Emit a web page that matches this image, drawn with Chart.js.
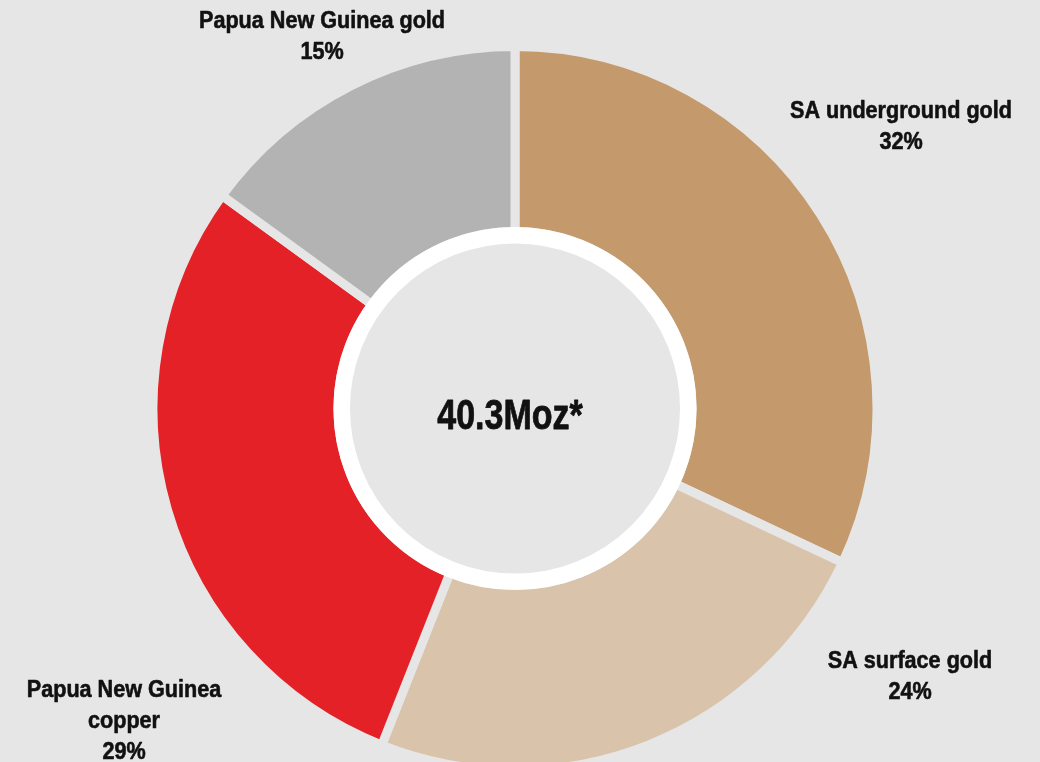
<!DOCTYPE html>
<html>
<head>
<meta charset="utf-8">
<title>Resource split</title>
<script src="https://cdn.jsdelivr.net/npm/chart.js@4.4.1/dist/chart.umd.min.js"></script>
<style>
    html, body {
        margin: 0;
        padding: 0;
        width: 1040px;
        height: 762px;
        overflow: hidden;
        background: #e6e6e6;
    }
    .chart-wrap {
        position: relative;
        width: 1040px;
        height: 818px;
    }
</style>
</head>
<body>
<div class="chart-wrap">
    <canvas id="splitChart" width="1040" height="818"></canvas>
</div>
<script>
// Slices, clockwise from 12 o'clock
const categories = ['SA underground gold', 'SA surface gold', 'Papua New Guinea copper', 'Papua New Guinea gold'];
const labelLines = [['SA underground gold'], ['SA surface gold'], ['Papua New Guinea', 'copper'], ['Papua New Guinea gold']];
const shares = [32, 24, 29, 15];
const sliceColors = ['#c49a6c', '#d9c4ab', '#e42127', '#b3b3b3'];
const centerText = '40.3Moz*';

const BG = '#e6e6e6';
const FONT = '"Liberation Sans", Arial, sans-serif';
const GAP = 9;

// label anchor (x, first baseline) relative to the doughnut centre
const labelSpots = [
    { dx: 386, dy: -291 },
    { dx: 395, dy: 259 },
    { dx: -391, dy: 288 },
    { dx: -193, dy: -381 }
];

// squeezed, slightly heavier text for the narrow bold look
const narrowText = (ctx, txt, x, y, sx) => {
    ctx.save();
    ctx.translate(x, y);
    ctx.scale(sx, 1);
    ctx.fillText(txt, 0, 0);
    ctx.strokeText(txt, 0, 0);
    ctx.restore();
};

// White ring around the hole, centre total and the outside labels
const ringAndLabels = {
    id: 'ringAndLabels',
    afterDatasetsDraw(chart) {
        const { ctx } = chart;
        const meta = chart.getDatasetMeta(0);
        const arc = meta.data[0];
        if (!arc) return;
        const cx = arc.x;
        const cy = arc.y;
        const inner = arc.innerRadius;

        ctx.save();
        // hole
        ctx.beginPath();
        ctx.arc(cx, cy, inner, 0, Math.PI * 2);
        ctx.fillStyle = BG;
        ctx.fill();
        // white ring
        const ringW = 16.5;
        ctx.beginPath();
        ctx.arc(cx, cy, inner + GAP / 2 - ringW / 2, 0, Math.PI * 2);
        ctx.lineWidth = ringW;
        ctx.strokeStyle = '#ffffff';
        ctx.stroke();

        // total in the middle
        ctx.fillStyle = '#111111';
        ctx.strokeStyle = '#111111';
        ctx.lineWidth = 0.8;
        ctx.lineJoin = 'round';
        ctx.textAlign = 'center';
        ctx.textBaseline = 'alphabetic';
        ctx.font = 'bold 42px ' + FONT;
        narrowText(ctx, centerText, cx - 5, cy + 20, 0.81);

        // slice labels
        ctx.font = 'bold 24px ' + FONT;
        ctx.lineWidth = 0.6;
        const lineH = 31;
        meta.data.forEach((el, i) => {
            const spot = labelSpots[i];
            const lines = labelLines[i].concat([shares[i] + '%']);
            lines.forEach((txt, k) => {
                narrowText(ctx, txt, cx + spot.dx, cy + spot.dy + k * lineH, 0.9);
            });
        });
        ctx.restore();
    }
};

new Chart(document.getElementById('splitChart'), {
    type: 'doughnut',
    data: {
        labels: categories,
        datasets: [{
            data: shares,
            backgroundColor: sliceColors,
            borderColor: BG,
            borderWidth: GAP,
            borderAlign: 'center',
            hoverOffset: 0
        }]
    },
    options: {
        responsive: false,
        animation: false,
        cutout: '48.9%',
        rotation: 0,
        layout: {
            padding: { top: 42, bottom: 43, left: 40, right: 50 }
        },
        plugins: {
            legend: { display: false },
            tooltip: { enabled: false }
        }
    },
    plugins: [ringAndLabels]
});
</script>
</body>
</html>
